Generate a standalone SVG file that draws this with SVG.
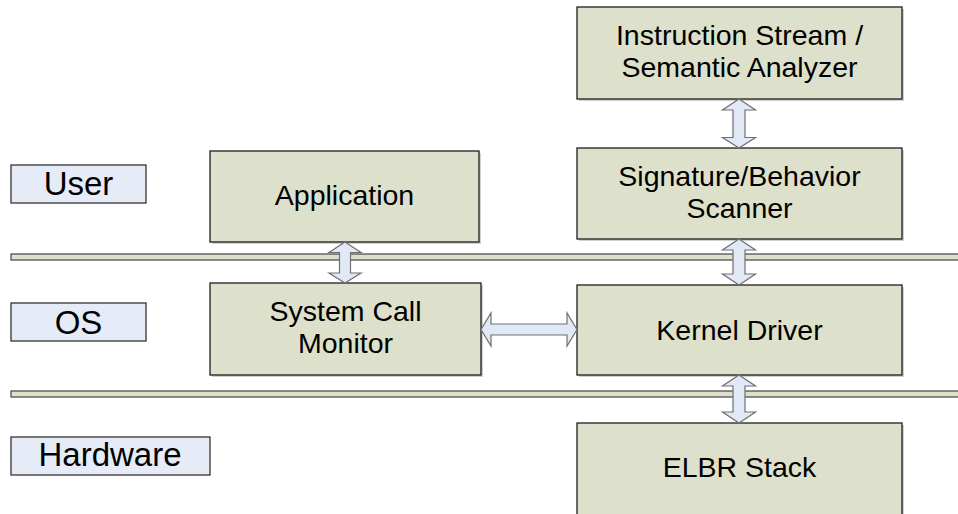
<svg xmlns="http://www.w3.org/2000/svg" width="958" height="514" viewBox="0 0 958 514">
<style>
.node{fill:#dde0ca;stroke:#1e1e1e;stroke-width:1.3}
.shadow{fill:#9a9a9a;opacity:0.45}
.lbl{fill:#e5ebf7;stroke:#333;stroke-width:1.3}
.bar{fill:#dde0ca;stroke:#444;stroke-width:1.2}
.arr{fill:#e2e9f6;stroke:#707070;stroke-width:1.2;stroke-linejoin:miter}
text{font-family:"Liberation Sans",Arial,sans-serif;fill:#000;text-anchor:middle}
.t{font-size:28.5px}
.tl{font-size:33px}
</style>
<rect width="958" height="514" fill="#fff"/>
<g id="bars">
<rect class="bar" x="11" y="254" width="950" height="6"/>
<rect class="bar" x="11" y="391" width="950" height="6"/>
</g>
<g id="label-user"><rect class="lbl" x="11" y="165" width="135" height="38"/><text class="tl" x="78.5" y="194.5">User</text></g>
<g id="label-os"><rect class="lbl" x="11" y="303" width="135" height="38"/><text class="tl" x="78.5" y="333.5">OS</text></g>
<g id="label-hw"><rect class="lbl" x="11" y="437" width="199" height="38"/><text class="tl" x="110" y="466">Hardware</text></g>
<g id="node-instr"><rect class="shadow" x="579" y="9" width="325" height="92"/><rect class="node" x="577" y="7" width="325" height="92"/><text class="t" x="739.5" y="45">Instruction Stream /</text><text class="t" x="739.5" y="77">Semantic Analyzer</text></g>
<g id="node-sig"><rect class="shadow" x="579" y="150" width="325" height="91"/><rect class="node" x="577" y="148" width="325" height="91"/><text class="t" x="739.5" y="186">Signature/Behavior</text><text class="t" x="739.5" y="218">Scanner</text></g>
<g id="node-app"><rect class="shadow" x="212" y="153" width="269" height="91"/><rect class="node" x="210" y="151" width="269" height="91"/><text class="t" x="344.5" y="205">Application</text></g>
<g id="node-syscall"><rect class="shadow" x="212" y="285" width="271" height="92"/><rect class="node" x="210" y="283" width="271" height="92"/><text class="t" x="345.5" y="321">System Call</text><text class="t" x="345.5" y="353">Monitor</text></g>
<g id="node-kernel"><rect class="shadow" x="579" y="287" width="325" height="90"/><rect class="node" x="577" y="285" width="325" height="90"/><text class="t" x="739.5" y="340">Kernel Driver</text></g>
<g id="node-elbr"><rect class="shadow" x="579" y="425" width="325" height="100"/><rect class="node" x="577" y="423" width="325" height="100"/><text class="t" x="739.5" y="477">ELBR Stack</text></g>
<g id="connectors">
<polygon class="arr" points="345,242 361,252.5 350.5,252.5 350.5,273 361,273 345,283 329,273 339.5,273 339.5,252.5 329,252.5"/>
<polygon class="arr" points="739,99 755.5,110 745,110 745,137.5 755.5,137.5 739,148 722.5,137.5 733,137.5 733,110 722.5,110"/>
<polygon class="arr" points="739,239 755.5,250 745,250 745,274 755.5,274 739,285 722.5,274 733,274 733,250 722.5,250"/>
<polygon class="arr" points="739,375 755.5,386 745,386 745,412 755.5,412 739,423 722.5,412 733,412 733,386 722.5,386"/>
<polygon class="arr" points="481,329.5 491,313 491,324 567,324 567,313 577,329.5 567,346 567,335 491,335 491,346"/>
</g>
</svg>
